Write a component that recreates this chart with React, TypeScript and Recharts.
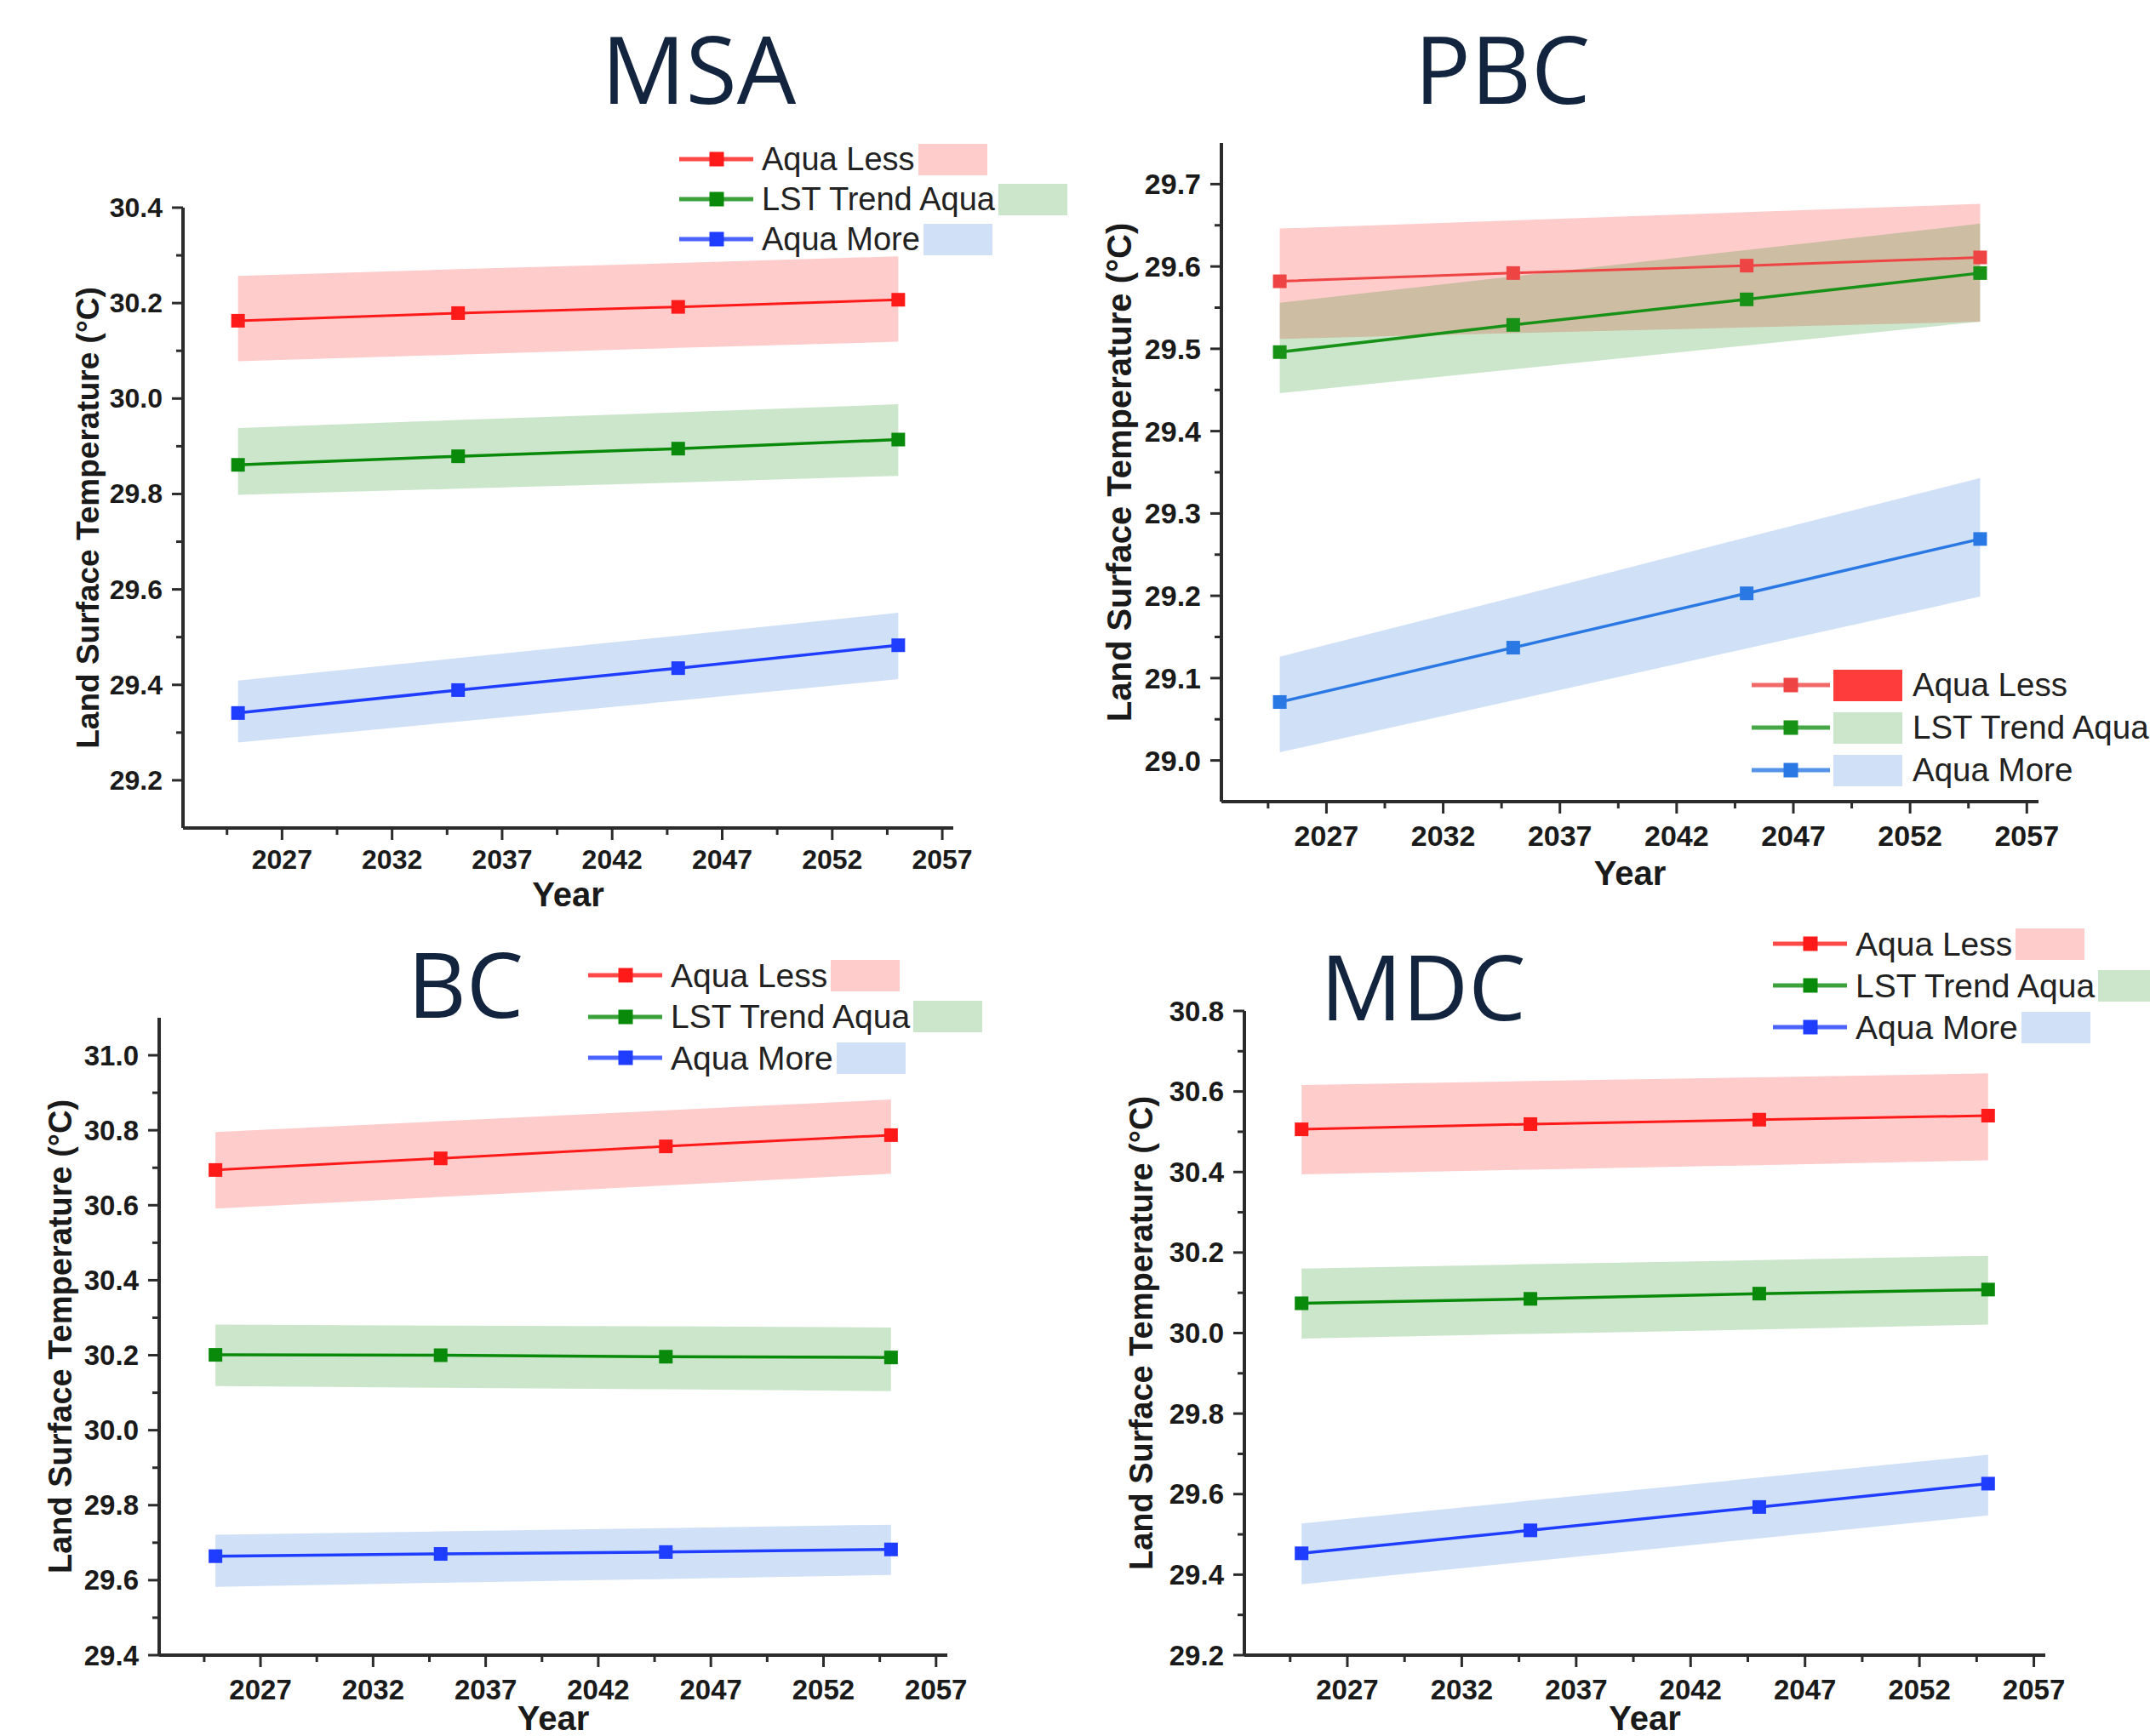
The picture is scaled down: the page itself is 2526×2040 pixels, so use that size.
import { ComposedChart, Line, Area, XAxis, YAxis, Legend, Label } from 'recharts'

const years = [2025, 2035, 2045, 2055]
const xMajorTicks = [2027, 2032, 2037, 2042, 2047, 2052, 2057]
const xMinorTicks = [2024.5, 2029.5, 2034.5, 2039.5, 2044.5, 2049.5, 2054.5]
const seriesNames = ['Aqua Less', 'LST Trend Aqua', 'Aqua More']

// MSA
const msaLess = [30.163, 30.179, 30.192, 30.207]
const msaLessLo = [30.078, 30.092, 30.106, 30.119]
const msaLessHi = [30.257, 30.271, 30.284, 30.298]
const msaTrend = [29.861, 29.879, 29.895, 29.914]
const msaTrendLo = [29.798, 29.811, 29.824, 29.838]
const msaTrendHi = [29.938, 29.955, 29.971, 29.988]
const msaMore = [29.341, 29.389, 29.435, 29.483]
const msaMoreLo = [29.279, 29.323, 29.367, 29.412]
const msaMoreHi = [29.409, 29.456, 29.503, 29.551]
const msaYMajor = [29.2, 29.4, 29.6, 29.8, 30.0, 30.2, 30.4]
const msaYMinor = [29.3, 29.5, 29.7, 29.9, 30.1, 30.3]

// PBC
const pbcLess = [29.582, 29.592, 29.601, 29.611]
const pbcLessLo = [29.512, 29.519, 29.526, 29.533]
const pbcLessHi = [29.646, 29.656, 29.666, 29.676]
const pbcTrend = [29.496, 29.529, 29.56, 29.592]
const pbcTrendLo = [29.446, 29.475, 29.504, 29.533]
const pbcTrendHi = [29.556, 29.588, 29.62, 29.652]
const pbcMore = [29.071, 29.137, 29.203, 29.269]
const pbcMoreLo = [29.01, 29.073, 29.136, 29.199]
const pbcMoreHi = [29.126, 29.198, 29.271, 29.343]
const pbcYMajor = [29.0, 29.1, 29.2, 29.3, 29.4, 29.5, 29.6, 29.7]
const pbcYMinor = [29.05, 29.15, 29.25, 29.35, 29.45, 29.55, 29.65]

// BC
const bcLess = [30.694, 30.725, 30.757, 30.787]
const bcLessLo = [30.591, 30.622, 30.653, 30.684]
const bcLessHi = [30.795, 30.824, 30.853, 30.882]
const bcTrend = [30.201, 30.2, 30.196, 30.194]
const bcTrendLo = [30.118, 30.113, 30.109, 30.104]
const bcTrendHi = [30.282, 30.279, 30.277, 30.274]
const bcMore = [29.664, 29.67, 29.675, 29.682]
const bcMoreLo = [29.582, 29.593, 29.603, 29.614]
const bcMoreHi = [29.721, 29.73, 29.739, 29.748]
const bcYMajor = [29.4, 29.6, 29.8, 30.0, 30.2, 30.4, 30.6, 30.8, 31.0]
const bcYMinor = [29.5, 29.7, 29.9, 30.1, 30.3, 30.5, 30.7, 30.9]

// MDC
const mdcLess = [30.506, 30.519, 30.53, 30.54]
const mdcLessLo = [30.394, 30.406, 30.417, 30.429]
const mdcLessHi = [30.616, 30.626, 30.635, 30.645]
const mdcTrend = [30.074, 30.085, 30.098, 30.108]
const mdcTrendLo = [29.986, 29.998, 30.009, 30.021]
const mdcTrendHi = [30.16, 30.171, 30.181, 30.192]
const mdcMore = [29.453, 29.51, 29.568, 29.626]
const mdcMoreLo = [29.376, 29.433, 29.49, 29.547]
const mdcMoreHi = [29.527, 29.584, 29.641, 29.698]
const mdcYMajor = [29.2, 29.4, 29.6, 29.8, 30.0, 30.2, 30.4, 30.6, 30.8]
const mdcYMinor = [29.3, 29.5, 29.7, 29.9, 30.1, 30.3, 30.5, 30.7]

const buildRows = (s: number[][]) =>
  years.map((year, i) => ({
    year,
    less: s[0][i],
    lessBand: [s[1][i], s[2][i]],
    trend: s[3][i],
    trendBand: [s[4][i], s[5][i]],
    more: s[6][i],
    moreBand: [s[7][i], s[8][i]],
  }))

const AXIS = '#2b2b2b'
const SANS = '"Liberation Sans", Arial, sans-serif'
const BAND_FILLS = ['#ff0000', '#008000', '#1464d8']
const BAND_SWATCH = ['#ffcccc', '#cce6cc', '#d0e0f7']
const COLORS_STD = ['#ff1a1a', '#0a8a0a', '#1f3dff']
const COLORS_PBC = ['#ee4444', '#179217', '#2a78e4']

type PanelCfg = {
  rows: any[]
  box: { left: number; top: number; width: number; height: number }
  plot: { left: number; top: number; right: number; bottom: number }
  yDomain: [number, number]
  yMajor: number[]
  yMinor: number[]
  colors: string[]
  tickFont: number
  titleFont: number
  yTitleGap: number
  yearGap: number
  xLabelGap: number
  legend: { x: number; y: number; gap: number; font: number; rectFirst?: boolean }
}

const Y_W = 150
const X_H = 60

const squareDot = (color: string, size = 16) => (props: any) => {
  const { cx, cy, key, index } = props
  return <rect key={key ?? index} x={cx - size / 2} y={cy - size / 2} width={size} height={size} fill={color} />
}

function Panel({ cfg }: { cfg: PanelCfg }) {
  const { box, plot } = cfg
  const margin = {
    left: plot.left - box.left - Y_W,
    top: plot.top - box.top,
    right: box.left + box.width - plot.right,
    bottom: box.top + box.height - plot.bottom - X_H,
  }
  const pl = plot.left - box.left
  const pt = plot.top - box.top
  const pw = plot.right - plot.left
  const ph = plot.bottom - plot.top

  const xTick = (props: any) => {
    const { x, y, payload } = props
    const major = xMajorTicks.includes(payload.value)
    return (
      <g>
        <line x1={x} x2={x} y1={y} y2={y + (major ? 14 : 8)} stroke={AXIS} strokeWidth={3} />
        {major && (
          <text x={x} y={y + cfg.xLabelGap} textAnchor="middle" dominantBaseline="central"
            fontFamily={SANS} fontWeight="bold" fontSize={cfg.tickFont} fill="#1a1a1a">
            {payload.value}
          </text>
        )}
      </g>
    )
  }

  const yTick = (props: any) => {
    const { x, y, payload } = props
    const major = cfg.yMajor.some((v) => Math.abs(v - payload.value) < 1e-6)
    return (
      <g>
        <line x1={x} x2={x - (major ? 13 : 8)} y1={y} y2={y} stroke={AXIS} strokeWidth={3} />
        {major && (
          <text x={x - 24} y={y} textAnchor="end" dominantBaseline="central"
            fontFamily={SANS} fontWeight="bold" fontSize={cfg.tickFont} fill="#1a1a1a">
            {payload.value.toFixed(1)}
          </text>
        )}
      </g>
    )
  }

  const lg = cfg.legend
  const rowH = lg.gap
  const renderLegend = () => (
    <div>
      {seriesNames.map((name, i) => {
        const sample = (
          <svg width={lg.rectFirst ? 92 : 87} height={20} style={{ display: 'block' }}>
            <line x1={0} x2={lg.rectFirst ? 92 : 87} y1={10} y2={10} stroke={cfg.colors[i]} strokeWidth={5} strokeOpacity={0.8} />
            <rect x={(lg.rectFirst ? 46 : 44) - 8.5} y={1.5} width={17} height={17} fill={cfg.colors[i]} />
          </svg>
        )
        const swatch = (
          <span style={{
            display: 'inline-block', width: 81, height: 37,
            background: lg.rectFirst && i === 0 ? '#ff3c3c' : BAND_SWATCH[i],
            marginLeft: 4,
          }} />
        )
        const label = (
          <span style={{ fontFamily: SANS, fontSize: lg.font, color: '#222', marginLeft: lg.rectFirst ? 12 : 10, whiteSpace: 'nowrap', lineHeight: 1 }}>
            {name}
          </span>
        )
        return (
          <div key={name} style={{ display: 'flex', alignItems: 'center', height: rowH }}>
            {sample}
            {lg.rectFirst ? swatch : label}
            {lg.rectFirst ? label : swatch}
          </div>
        )
      })}
    </div>
  )

  return (
    <div style={{ position: 'absolute', left: box.left, top: box.top }}>
      <ComposedChart width={box.width} height={box.height} data={cfg.rows} margin={margin}>
        <XAxis
          dataKey="year"
          type="number"
          domain={[2022.5, 2057.5]}
          ticks={[...xMinorTicks, ...xMajorTicks].sort((a, b) => a - b)}
          interval={0}
          allowDataOverflow
          height={X_H}
          tickLine={false}
          tickSize={0}
          tickMargin={0}
          tick={xTick}
          axisLine={{ stroke: AXIS, strokeWidth: 4 }}
        >
          <Label
            content={() => (
              <text x={pl + pw / 2} y={pt + ph + cfg.yearGap} textAnchor="middle" dominantBaseline="central"
                fontFamily={SANS} fontWeight="bold" fontSize={40} fill="#1a1a1a">
                Year
              </text>
            )}
          />
        </XAxis>
        <YAxis
          type="number"
          domain={cfg.yDomain}
          ticks={[...cfg.yMinor, ...cfg.yMajor].sort((a, b) => a - b)}
          interval={0}
          allowDataOverflow
          width={Y_W}
          tickLine={false}
          tickSize={0}
          tickMargin={0}
          tick={yTick}
          axisLine={{ stroke: AXIS, strokeWidth: 4 }}
        >
          <Label
            content={() => {
              const cx = pl - cfg.yTitleGap
              const cy = pt + ph / 2
              return (
                <text x={cx} y={cy} transform={`rotate(-90, ${cx}, ${cy})`} textAnchor="middle" dominantBaseline="central"
                  fontFamily={SANS} fontWeight="bold" fontSize={cfg.titleFont} fill="#1a1a1a">
                  Land Surface Temperature (°C)
                </text>
              )
            }}
          />
        </YAxis>
        <Area type="linear" dataKey="lessBand" stroke="none" fill={BAND_FILLS[0]} fillOpacity={0.2} dot={false} activeDot={false} isAnimationActive={false} />
        <Area type="linear" dataKey="trendBand" stroke="none" fill={BAND_FILLS[1]} fillOpacity={0.2} dot={false} activeDot={false} isAnimationActive={false} />
        <Area type="linear" dataKey="moreBand" stroke="none" fill={BAND_FILLS[2]} fillOpacity={0.2} dot={false} activeDot={false} isAnimationActive={false} />
        <Line type="linear" dataKey="less" stroke={cfg.colors[0]} strokeWidth={3} dot={squareDot(cfg.colors[0])} activeDot={false} isAnimationActive={false} />
        <Line type="linear" dataKey="trend" stroke={cfg.colors[1]} strokeWidth={3.5} dot={squareDot(cfg.colors[1])} activeDot={false} isAnimationActive={false} />
        <Line type="linear" dataKey="more" stroke={cfg.colors[2]} strokeWidth={3.5} dot={squareDot(cfg.colors[2])} activeDot={false} isAnimationActive={false} />
        <Legend
          layout="horizontal"
          verticalAlign="middle"
          align="center"
          content={renderLegend}
          wrapperStyle={{ left: lg.x - box.left, top: lg.y - rowH / 2 - box.top, width: 'auto', height: 'auto' }}
        />
      </ComposedChart>
    </div>
  )
}

const panels: PanelCfg[] = [
  {
    rows: buildRows([msaLess, msaLessLo, msaLessHi, msaTrend, msaTrendLo, msaTrendHi, msaMore, msaMoreLo, msaMoreHi]),
    box: { left: 0, top: 130, width: 1263, height: 950 },
    plot: { left: 215, top: 244, right: 1120, bottom: 973 },
    yDomain: [29.1, 30.4], yMajor: msaYMajor, yMinor: msaYMinor,
    colors: COLORS_STD, tickFont: 32, titleFont: 37, yTitleGap: 112, yearGap: 78, xLabelGap: 37,
    legend: { x: 798, y: 187, gap: 47, font: 38 },
  },
  {
    rows: buildRows([pbcLess, pbcLessLo, pbcLessHi, pbcTrend, pbcTrendLo, pbcTrendHi, pbcMore, pbcMoreLo, pbcMoreHi]),
    box: { left: 1263, top: 130, width: 1263, height: 950 },
    plot: { left: 1435, top: 168, right: 2395, bottom: 942 },
    yDomain: [28.95, 29.75], yMajor: pbcYMajor, yMinor: pbcYMinor,
    colors: COLORS_PBC, tickFont: 34, titleFont: 40, yTitleGap: 120, yearGap: 84, xLabelGap: 40,
    legend: { x: 2058, y: 805, gap: 50, font: 38.5, rectFirst: true },
  },
  {
    rows: buildRows([bcLess, bcLessLo, bcLessHi, bcTrend, bcTrendLo, bcTrendHi, bcMore, bcMoreLo, bcMoreHi]),
    box: { left: 0, top: 1080, width: 1263, height: 960 },
    plot: { left: 187, top: 1196, right: 1113, bottom: 1945 },
    yDomain: [29.4, 31.1], yMajor: bcYMajor, yMinor: bcYMinor,
    colors: COLORS_STD, tickFont: 33, titleFont: 38, yTitleGap: 116, yearGap: 74, xLabelGap: 40,
    legend: { x: 691, y: 1146, gap: 48.5, font: 39 },
  },
  {
    rows: buildRows([mdcLess, mdcLessLo, mdcLessHi, mdcTrend, mdcTrendLo, mdcTrendHi, mdcMore, mdcMoreLo, mdcMoreHi]),
    box: { left: 1263, top: 1080, width: 1263, height: 960 },
    plot: { left: 1462, top: 1188, right: 2403, bottom: 1945 },
    yDomain: [29.2, 30.8], yMajor: mdcYMajor, yMinor: mdcYMinor,
    colors: COLORS_STD, tickFont: 33, titleFont: 38, yTitleGap: 121, yearGap: 74, xLabelGap: 40,
    legend: { x: 2083, y: 1109, gap: 49, font: 39 },
  },
]

const titles = [
  { text: 'MSA', x: 821, y: 122, size: 110 },
  { text: 'PBC', x: 1765, y: 122, size: 110 },
  { text: 'BC', x: 547, y: 1196, size: 107 },
  { text: 'MDC', x: 1672, y: 1199, size: 107 },
]

export default function App() {
  return (
    <div style={{ position: 'absolute', left: 0, top: 0, width: 2526, height: 2040, overflow: 'hidden', background: '#fff' }}>
      {panels.map((cfg, i) => (
        <Panel key={i} cfg={cfg} />
      ))}
      <svg width={2526} height={2040} style={{ position: 'absolute', left: 0, top: 0, pointerEvents: 'none' }}>
        {titles.map((t) => (
          <text key={t.text} x={t.x} y={t.y} textAnchor="middle" fontFamily='"Open Sans", "Noto Sans", sans-serif' fontSize={t.size} fill="#13243f">
            {t.text}
          </text>
        ))}
      </svg>
    </div>
  )
}
